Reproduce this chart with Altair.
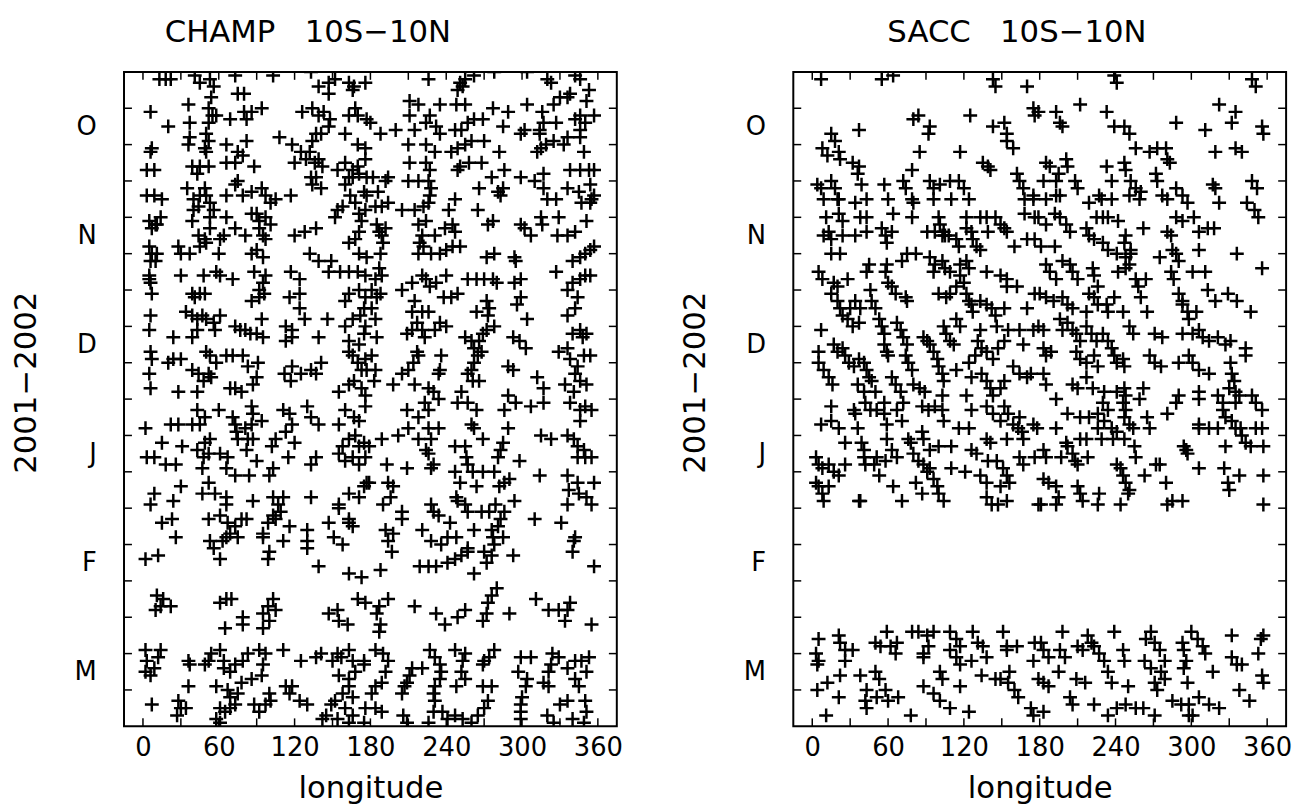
import altair as alt
import pandas as pd

# ---------------- data (longitude in degrees, day counted from 1 Oct 2001) -------------
CHAMP_NW = [[13,2],[18,2],[22,2],[41,1],[45,3],[53,2],[56,4],[73,1],[75,6],[80,6],[103,1],[133,0],[139,4],[147,3],[152,2],[147,6],[163,3],[167,4],[176,3],[166,5],[54,7],
[6,11],[36,9],[52,10],[55,12],[52,14],[58,12],[69,13],[80,11],[82,13],[86,11],[94,10],[126,11],[134,10],[139,12],[143,11],[148,13],[147,15],[163,12],[168,10],[170,12],[177,13],[20,15],[37,14],
[50,17],[52,19],[49,21],[50,22],[36,20],[37,18],[66,20],[82,19],[6,22],[7,21],[108,18],[118,20],[134,19],[137,17],[141,17],[160,17],[170,20],[176,21],[125,22],[132,22],[75,22],
[3,27],[9,27],[39,26],[45,26],[52,26],[43,28],[66,25],[73,25],[79,23],[88,26],[120,25],[129,24],[136,25],[139,24],[142,26],[133,29],[154,27],[160,25],[166,27],[170,26],[176,24],[163,29],[177,29],
[3,34],[9,34],[15,35],[35,32],[40,35],[45,34],[49,32],[50,34],[53,36],[66,34],[73,31],[75,30],[79,34],[86,33],[94,32],[97,34],[105,35],[101,36],[117,34],[134,31],[137,29],[141,32],[160,31],[166,29],[171,28],[175,33],[177,34],[40,38],[44,37],
[5,41],[10,42],[14,40],[7,43],[11,42],[39,41],[53,40],[56,38],[66,40],[44,45],[49,46],[53,43],[61,46],[64,45],[73,43],[86,39],[90,39],[92,41],[97,40],[101,42],[92,43],[95,45],[97,46],[81,45],[120,45],[128,44],[137,43],[152,40],[154,38],[158,37],[164,34],[168,36],[171,39],[173,41],[176,38],[163,47],[168,46],[171,44],
[5,48],[7,50],[10,52],[6,52],[11,50],[28,48],[37,50],[45,48],[50,47],[60,50],[30,50],[86,50],[90,49],[95,51],[132,50],[139,52],[149,52],[171,50],[177,51],
[5,56],[6,58],[7,61],[5,57],[30,56],[48,56],[58,55],[71,57],[61,56],[88,55],[97,56],[95,58],[117,55],[124,57],[147,55],[156,55],[163,55],[170,55],[176,56],[39,61],[41,62],[45,61],[49,61],[86,63],[92,62],[96,61],[92,60],[116,62],[124,61],[160,63],[163,61],[171,60],[176,62],[175,65],
[6,67],[5,71],[34,66],[39,67],[43,68],[47,67],[50,68],[56,69],[61,67],[57,71],[73,70],[77,71],[81,71],[85,72],[90,72],[94,68],[95,73],[113,70],[118,71],[124,65],[128,68],[146,68],[160,70],[166,68],[172,67],[176,70],[24,73],[39,73],[43,71],[113,74],[118,73],[139,73],[163,74],[171,75],[175,72],
[6,77],[7,79],[5,83],[6,87],[20,80],[24,79],[30,79],[39,82],[44,83],[48,85],[52,83],[54,84],[58,80],[53,78],[50,77],[66,78],[71,78],[79,78],[83,81],[91,80],[90,84],[87,86],[69,87],[73,87],[78,88],[112,83],[118,81],[117,85],[125,83],[133,82],[141,80],[137,83],[163,77],[166,78],[170,80],[173,82],[176,79],[177,82],[155,88],[163,86],[167,85],[173,87],[176,89],[28,88],[43,88]]

CHAMP_NE = [[226,2],[251,3],[255,2],[262,1],[278,0],[304,0],[320,2],[323,3],[342,1],[346,2],[249,5],[253,4],[353,5],[351,8],
[211,8],[218,9],[235,9],[248,9],[255,9],[277,10],[289,11],[304,9],[316,11],[325,9],[330,7],[336,7],[338,6],[357,12],[346,12],[350,14],
[180,14],[188,17],[200,16],[211,12],[215,16],[224,14],[227,12],[232,15],[235,17],[247,16],[252,16],[257,14],[262,13],[269,13],[285,15],[299,17],[302,16],[314,16],[314,17],[317,14],[327,14],[333,20],[342,13],[346,16],
[210,20],[224,20],[231,22],[244,22],[249,21],[255,20],[260,19],[270,19],[282,22],[312,22],[315,21],[319,20],[325,19],[336,18],[346,18],[349,22],
[211,25],[224,25],[227,27],[251,26],[249,27],[258,25],[268,25],[276,29],[286,27],[299,29],[310,30],[317,28],[338,27],[346,27],[353,27],[357,27],
[182,29],[186,33],[192,30],[194,29],[210,30],[218,30],[226,30],[228,32],[227,34],[247,35],[266,32],[281,33],[285,32],[283,34],[317,32],[320,35],[327,35],[336,32],[345,33],[347,36],[354,31],[355,35],[357,34],
[184,37],[189,37],[194,36],[205,38],[215,38],[222,37],[226,36],[224,41],[242,38],[265,38],[273,42],[277,41],[299,42],[302,43],[307,45],[315,40],[316,42],[329,40],[328,45],[336,45],[342,44],[351,41],[354,36],
[185,42],[187,44],[189,45],[190,47],[188,50],[192,43],[218,42],[221,45],[231,45],[239,43],[245,42],[247,44],[219,47],[218,50],[222,48],[228,50],[235,50],[240,49],[245,48],[251,48],
[272,51],[278,50],[294,51],[295,52],[327,55],[340,52],[346,51],[350,50],[354,49],[357,48],
[187,54],[184,57],[189,56],[181,60],[185,62],[188,61],[205,60],[213,58],[221,56],[224,57],[227,59],[232,58],[240,56],[238,62],[244,62],[249,61],[257,57],[264,57],[270,57],[277,57],[280,58],[294,58],[299,57],
[215,63],[213,66],[221,66],[226,66],[272,63],[274,65],[273,67],[264,66],[296,64],[299,62],[304,68],[336,60],[340,58],[346,57],[350,56],[354,56],[344,62],[342,65],[336,67],[181,65],[184,68],
[209,72],[213,71],[217,69],[221,71],[223,73],[231,71],[235,69],[240,70],[255,73],[260,74],[262,76],[266,74],[269,72],[272,71],[278,70],[293,73],[298,74],[303,76],[336,76],[340,72],[346,71],[351,72],[348,73],
[185,73],[181,78],[184,82],[183,85],[205,83],[210,82],[214,80],[218,78],[217,77],[236,78],[235,82],[234,83],[198,86],[215,86],[226,87],[230,88],[257,83],[260,82],[262,80],[265,78],[268,77],[261,85],[266,85],[252,88],[289,81],[293,82],[312,84],[329,77],[338,79],[344,81],[349,78],[354,78],[342,83],[346,85],[351,86],[334,86],[317,87],[289,89],[341,88]]

CHAMP_SW = [[43,93],[49,95],[45,97],[39,97],[60,93],[71,95],[73,97],[86,92],[87,94],[86,97],[94,96],[2,98],[22,97],[28,97],[111,93],[116,94],[118,97],[130,92],[133,95],[139,97],[160,93],[167,95],[171,96],[176,92],[155,97],
[74,99],[81,98],[75,101],[83,101],[87,101],[105,101],[113,99],[120,102],
[15,102],[3,106],[9,106],[18,108],[26,108],[31,103],[43,104],[49,102],[53,101],[48,106],[47,109],[52,105],[61,105],[67,106],[66,109],[73,111],[84,111],[82,104],[90,107],[102,103],[103,109],[100,111],[115,106],[133,108],[137,106],
[158,103],[163,101],[168,100],[171,103],[175,102],[160,107],[166,106],[171,108],[176,106],[155,105],
[9,116],[30,114],[6,119],[24,118],[47,116],[52,113],[57,116],[66,117],[66,119],[87,118],[103,117],[111,117],[107,119],[133,117],[155,119],[163,116],[171,117],[175,114],[177,113],
[15,124],[23,123],[26,128],[52,123],[61,122],[67,124],[73,125],[69,127],[75,128],[78,123],[82,123],[53,129],[56,131],[63,129],[61,134],[66,128],
[95,127],[99,124],[103,122],[105,123],[109,121],[116,125],[95,128],[111,129],[100,132],[99,134],[130,126],[130,129],[130,131],[147,124],[155,120],[163,123],[166,125],[151,128],[158,130],[163,124],
[2,134],[12,133],[139,136],[163,138],[173,139],
[11,144],[16,145],[22,147],[10,148],[14,147],[61,146],[66,145],[70,145],[103,145],[99,147],[105,148],[95,149],[100,151],[79,150],[79,152],[65,153],[95,153],[147,149],[154,148],[155,151],[162,152],[170,145],[176,146],
[2,159],[3,162],[2,165],[6,166],[9,164],[12,161],[14,159],[36,162],[37,163],[49,163],[52,162],[54,160],[61,159],[64,162],[64,164],[69,165],[73,163],[79,162],[83,160],[92,159],[97,160],[111,159],[95,163],[94,166],[86,167],[78,168],
[125,162],[137,161],[141,160],[150,162],[154,160],[157,161],[163,159],[166,162],[175,162],[155,166],[163,167],[168,165],[175,163],
[36,169],[58,169],[67,170],[69,172],[75,171],[100,171],[113,169],[118,169],[116,171],
[7,174],[28,173],[30,175],[27,177],[34,175],[61,175],[65,176],[69,175],[73,174],[58,178],[61,179],[88,174],[92,176],[97,174],[101,173],
[124,173],[130,174],[145,177],[149,174],[152,173],[158,171],[163,169],[166,172],[160,175],[142,178],[154,178],[163,179],[175,179],[176,175],[166,177]]

CHAMP_SE = [[209,93],[218,95],[223,91],[226,93],[234,90],[249,91],[257,91],[264,93],[286,93],[295,91],[307,92],[317,91],[338,91],[346,93],[350,92],[355,93],[346,96],
[202,100],[210,98],[218,101],[226,98],[228,101],[234,98],[224,104],[230,108],[226,105],[179,103],[189,101],
[247,103],[255,103],[256,106],[257,108],[269,101],[260,97],[262,98],[289,98],[285,102],[283,104],[281,106],[298,107],
[315,100],[323,101],[336,100],[341,101],[344,103],[349,104],[350,106],[355,106],[344,106],
[193,108],[209,109],[228,109],[247,110],[261,110],[269,110],[278,110],[314,111],
[179,113],[194,113],[198,114],[196,117],[190,119],[251,113],[264,114],[282,114],[286,113],[290,112],
[228,119],[230,121],[234,122],[248,117],[249,118],[255,119],[257,121],[268,121],[274,121],[279,119],[286,121],[294,118],
[336,111],[344,113],[337,115],[345,116],[351,117],[357,113],[355,119],[336,119],[205,121],[205,123],
[192,126],[198,127],[194,129],[197,132],[188,137],[221,126],[228,129],[236,130],[241,128],[243,124],[248,128],[257,131],[262,126],
[276,126],[277,128],[278,130],[276,133],[272,135],[285,128],[281,125],[283,123],[293,133],[310,123],[331,124],[341,129],[340,132],[342,128],
[219,136],[226,136],[232,136],[241,135],[247,134],[252,133],[257,132],[262,138],[270,132],[357,136],
[187,147],[194,145],[185,149],[188,152],[187,154],[215,147],[232,149],[239,152],[249,150],[255,148],[269,151],[272,149],[273,146],[276,144],[280,142],[290,149],[311,145],[321,148],[329,148],[336,148],[338,146],[334,151],[355,152],
[184,159],[190,160],[194,162],[192,165],[189,168],[184,169],[181,171],[184,175],[189,176],[205,171],[207,169],[209,168],[211,166],[213,164],[221,164],[206,177],[209,179],
[227,159],[231,161],[235,163],[236,165],[235,167],[231,169],[230,171],[231,173],[230,176],[226,179],[237,176],[241,178],[247,177],[253,178],
[247,159],[255,160],[253,162],[252,165],[255,167],[248,169],[269,163],[270,162],[274,161],[278,159],[269,169],[276,169],[273,173],[270,175],[265,177],[260,179],
[299,161],[307,161],[297,165],[304,167],[303,169],[300,172],[299,174],[299,176],[299,178],
[317,168],[321,165],[323,163],[324,160],[329,161],[321,169],[336,164],[342,162],[347,162],[353,161],[351,165],[342,167],[345,169],
[320,177],[325,179],[330,174],[336,173],[350,173],[351,176],[349,179],[340,178]]

SACC_NW = [[7,2],[55,2],[64,1],[143,2],[145,4],[170,4],[175,10],[176,12],
[80,13],[84,12],[93,15],[92,17],[125,12],[143,15],[152,14],[154,17],[154,19],[159,21],
[37,16],[15,17],[18,19],[8,21],[12,23],[21,22],[22,24],[85,22],[117,22],
[32,25],[37,26],[36,28],[79,27],[135,25],[139,26],[141,27],[162,28],[164,30],[167,32],[175,34],
[4,31],[7,32],[15,30],[18,32],[21,35],[39,31],[57,31],[72,30],[74,32],[79,35],[80,36],[93,30],[96,32],[101,31],[109,30],[116,30],[120,32],
[9,35],[20,35],[34,36],[43,35],[60,35],[96,35],[110,35],[124,35],[168,35],[175,35],
[11,40],[21,39],[24,41],[38,40],[43,40],[64,39],[79,40],[100,40],[101,42],[104,44],[105,45],[122,40],[133,40],[138,40],[145,40],[149,42],[152,43],[168,39],[176,40],
[9,45],[13,44],[15,46],[24,45],[34,45],[43,44],[55,43],[58,45],[59,47],[63,44],[91,44],[97,44],[103,45],[108,45],[114,46],[116,48],[122,43],[126,44],[127,46],[130,48],[133,49],[139,44],[154,44],[160,48],[170,46],[176,46],
[15,50],[22,50],[45,53],[43,55],[59,53],[58,55],[71,52],[75,50],[82,50],[93,51],[97,53],[96,55],[103,52],[105,54],[109,55],[117,53],[117,56],[122,52],[124,54],[138,55],[149,56],[154,57],[154,59],[162,59],
[5,55],[8,57],[17,58],[20,59],[28,57],[15,61],[20,63],[46,60],[47,63],[50,65],[60,58],[63,59],[66,61],[74,62],[75,63],[100,61],[106,62],[109,61],[114,59],[120,58],[122,61],[124,63],[126,64],[127,66],[133,63],[138,64],[142,65],[145,67],[146,70],[152,65],[170,65],[176,61],
[22,65],[24,67],[30,65],[34,63],[38,65],[28,68],[32,70],[37,69],[7,71],[53,68],[55,70],[57,72],[67,69],[70,71],[72,73],[75,75],[91,74],[93,75],[96,77],[99,79],[104,70],[106,72],[109,74],[112,75],[114,68],[117,70],[133,71],[131,74],[134,76],[138,77],[143,79],[147,76],[152,74],[155,71],[164,71],[167,75],[175,71],
[5,77],[17,75],[20,77],[24,76],[26,78],[29,80],[33,81],[37,79],[41,80],[43,82],[5,80],[9,82],[13,84],[16,86],[36,86],[41,88],[45,84],[47,85],[50,88],[57,75],[59,77],[60,78],[63,84],[66,86],[70,88],[74,78],[76,80],[79,82],[80,86],[85,87],[89,88],[88,73],[100,81],[103,83],[104,85],[114,82],[124,80],[129,78],[126,84],[134,83],[138,85],[141,87],[143,89],[149,87],[152,85],[159,81],[164,83],[170,84],[173,83],[103,89],[122,89]]

SACC_NE = [[239,1],[241,3],[348,2],[351,4],[212,9],[179,11],[193,11],[196,14],[198,15],[233,11],[239,15],[247,15],[251,17],[288,14],[311,16],[322,9],[335,11],[332,14],[356,15],[357,17],
[256,21],[267,22],[273,21],[280,21],[281,24],[283,25],[319,22],[335,21],[340,22],
[185,25],[188,26],[201,24],[202,26],[233,26],[247,25],[248,27],[195,28],[193,30],[183,30],[208,30],[210,32],[237,30],[252,30],[256,32],[260,33],[272,28],[273,30],[288,32],[317,31],[319,32],[348,30],[352,32],
[185,35],[193,34],[196,34],[219,36],[227,34],[229,35],[237,35],[251,34],[259,35],[277,34],[281,35],[293,34],[297,36],[322,36],[344,36],[350,38],[353,40],
[179,40],[185,42],[192,39],[196,40],[201,42],[204,44],[225,40],[230,40],[234,40],[242,41],[217,43],[219,45],[223,46],[262,43],[288,40],[293,41],[302,40],[306,44],[313,43],[318,43],[281,44],[284,45],
[248,45],[247,47],[252,49],[252,50],[248,51],[230,47],[234,49],[241,50],[181,48],[192,48],[275,51],[285,49],[288,50],[290,52],[306,49],[336,50],
[185,53],[188,55],[193,57],[198,52],[204,53],[206,55],[210,57],[222,54],[223,56],[226,59],[242,55],[248,54],[251,53],[256,57],[258,59],[260,62],[264,57],[284,55],[286,57],[290,61],[293,63],[301,55],[311,55],[313,60],[319,63],[329,61],[336,63],[347,66],[356,54],
[180,61],[185,62],[191,63],[198,62],[202,64],[206,65],[217,66],[219,61],[223,62],[226,64],[233,64],[234,66],[239,62],[246,66],[265,66],[293,64],[297,66],[298,68],[304,66],
[179,70],[183,71],[196,68],[198,71],[202,69],[206,71],[209,72],[212,74],[217,70],[221,72],[225,74],[230,72],[234,74],[237,76],[239,78],[251,70],[254,72],[271,72],[277,73],[293,72],[301,72],[306,71],[309,73],[314,74],[321,73],[327,75],[331,74],[343,76],[343,78],
[183,76],[185,78],[189,77],[209,77],[212,79],[217,80],[223,78],[226,81],[241,80],[246,79],[247,81],[267,78],[271,80],[276,81],[290,80],[298,78],[301,80],[306,82],[314,83],[331,80],[332,83],[334,85],[330,87],[335,88],[338,89],
[183,83],[185,86],[206,86],[210,87],[217,84],[222,87],[231,88],[241,88],[247,87],[248,89],[262,87],[290,89],[306,88],[321,89],[348,89]]

SACC_SW = [[15,92],[33,93],[34,94],[42,91],[46,93],[51,93],[57,91],[57,94],[59,97],[67,93],[71,96],[72,91],[7,97],[15,96],[21,98],[36,98],
[87,92],[92,93],[97,92],[103,93],[104,96],[116,98],[124,98],[126,93],[138,92],[143,94],[149,96],[152,92],[155,94],[159,97],[163,98],[164,95],[175,97],
[26,102],[39,102],[41,104],[59,101],[63,104],[67,106],[76,101],[78,102],[87,99],[88,101],[93,104],[100,103],[110,103],[126,104],[130,105],[138,101],[141,102],[154,101],[166,99],[167,101],
[3,106],[5,108],[8,109],[13,108],[17,110],[21,111],[26,108],[41,106],[42,108],[49,108],[51,106],[53,111],[58,107],[80,105],[84,107],[88,108],[91,110],[96,112],[99,114],[100,116],[104,118],[93,109],[110,109],[121,110],[133,111],[138,113],[139,107],[146,107],[151,109],[154,111],[156,113],[164,106],[167,108],[176,106],
[3,113],[5,114],[8,116],[9,118],[13,114],[37,118],[38,118],[64,114],[71,118],[82,113],[87,116],[138,117],[142,119],[147,119],[154,118],[149,114],[179,119],
[5,156],[3,160],[5,162],[4,163],[21,155],[22,157],[26,159],[32,159],[26,162],[50,157],[54,158],[59,154],[62,158],[66,160],[67,157],[79,154],[84,154],[91,155],[96,154],[92,158],[88,160],[88,161],
[109,154],[114,156],[117,158],[109,159],[114,161],[117,163],[126,162],[127,154],[131,157],[135,158],[138,161],[151,154],[154,158],[162,158],[154,159],[176,157],[175,162],
[4,170],[12,168],[22,166],[21,172],[38,166],[50,165],[53,167],[43,170],[42,173],[43,175],[51,172],[58,170],[60,173],[68,172],[11,177],[78,177],[88,169],[96,171],[101,165],[103,167],[101,173],[109,175],[117,169],[124,176],[134,166],[145,167],[149,167],[156,165],[155,168],[160,170],[163,172],[173,175],[175,177],[179,167]]

SACC_SE = [[193,90],[230,91],[234,93],[246,91],[248,93],[259,90],[288,91],[306,90],[325,91],[335,91],[351,91],[356,93],
[202,94],[212,95],[219,95],[226,94],[231,96],[237,98],[241,99],[247,95],[251,97],[254,98],[265,95],[267,98],[281,94],
[193,98],[178,98],[212,101],[217,101],[229,101],[238,101],[247,101],[226,98],
[306,97],[306,98],[314,98],[321,98],[327,95],[325,93],[332,96],[335,98],[339,98],[340,100],[351,98],[356,98],[343,102],[347,103],[357,103],[327,103],
[294,103],[296,104],[297,105],[201,102],[202,103],[206,105],[208,107],[210,108],[218,106],[197,106],[185,106],[183,104],[255,103],[256,106],
[241,108],[244,109],[246,111],[248,113],[251,115],[263,111],[272,108],[275,108],[280,113],[306,109],[326,109],[338,111],[329,113],[330,115],[357,111],
[183,112],[187,113],[193,114],[195,117],[193,119],[181,119],[210,114],[212,116],[214,118],[227,116],[226,119],[244,119],[250,116],[281,119],[285,118],[293,118],[357,119],
[181,157],[183,159],[187,161],[183,168],[187,169],[183,176],[198,154],[196,159],[200,161],[195,165],[204,172],[206,174],
[210,158],[214,159],[218,155],[221,157],[223,158],[227,160],[231,162],[234,165],[237,168],[209,167],[216,168],[239,154],[246,159],[247,162],[250,169],
[223,174],[234,177],[241,175],[248,174],[256,175],[262,175],[271,177],
[264,156],[268,154],[271,157],[275,159],[279,162],[263,162],[268,164],[276,165],[279,167],[271,168],[273,170],
[285,173],[292,174],[298,174],[301,177],[306,172],[314,174],[322,175],[293,157],[294,159],[296,162],[294,164],[300,154],[305,156],[309,158],[311,160],[297,168],
[317,165],[332,155],[332,161],[336,163],[340,163],[338,170],[346,173],[353,160],[355,156],[357,155],[356,166],[357,168],[298,177]]

MONTHS = ["O", "N", "D", "J", "F", "M"]
MONTH_POS = [15, 45, 75, 105, 135, 165]
X_LABELS = [0, 60, 120, 180, 240, 300, 360]
X_TICKS = [0, 30, 60, 90, 120, 150, 180, 210, 240, 270, 300, 330, 360]
Y_TICKS = [10, 20, 30, 40, 50, 60, 70, 80, 90, 100, 110, 120, 130, 140, 150, 160, 170]

# ---------------- chart ----------------
W, H = 497, 660
FONT = "DejaVu Sans"
TICK = 8
PLUS = "M-1,0L1,0M0,-1L0,1"

xscale = alt.Scale(domain=[-15, 375], nice=False, zero=False)
yscale = alt.Scale(domain=[0, 180], reverse=True, nice=False, zero=False)

month_expr = "[" + ",".join("'%s'" % m for m in MONTHS) + "][floor(datum.value / 30)]"

xaxis = alt.Axis(values=X_LABELS, ticks=False, domain=False, grid=False,
                 labelFont=FONT, labelFontSize=26, labelColor="black", labelPadding=8,
                 title="longitude", titleFont=FONT, titleFontSize=31,
                 titleFontWeight="normal", titleColor="black", titlePadding=14)
yaxis = alt.Axis(values=MONTH_POS, ticks=False, domain=False, grid=False,
                 labelExpr=month_expr, labelFont=FONT, labelFontSize=26,
                 labelColor="black", labelPadding=28,
                 title="2001\u22122002", titleFont=FONT, titleFontSize=31,
                 titleFontWeight="normal", titleColor="black", titlePadding=32,
                 titleY=313)


def panel(pairs, title, dx):
    pts = pd.DataFrame(pairs, columns=["lon", "day"])
    xt = pd.DataFrame({"lon": X_TICKS})
    yt = pd.DataFrame({"day": Y_TICKS})
    X = alt.X("lon:Q", scale=xscale, axis=xaxis)
    Y = alt.Y("day:Q", scale=yscale, axis=yaxis)

    points = alt.Chart(pts).mark_point(
        shape=PLUS, size=196, filled=False, color="black",
        strokeWidth=2.5, opacity=1, clip=True
    ).encode(x=X, y=Y)

    rule = dict(color="black", strokeWidth=1.5)
    bottom = alt.Chart(xt).mark_rule(**rule).encode(
        x=X, y=alt.value(H), y2=alt.value(H - TICK))
    top = alt.Chart(xt).mark_rule(**rule).encode(
        x=X, y=alt.value(0), y2=alt.value(TICK))
    left = alt.Chart(yt).mark_rule(**rule).encode(
        y=Y, x=alt.value(0), x2=alt.value(TICK))
    right = alt.Chart(yt).mark_rule(**rule).encode(
        y=Y, x=alt.value(W - TICK), x2=alt.value(W))

    return alt.layer(points, bottom, top, left, right).properties(
        width=W, height=H,
        title=alt.TitleParams(title, font=FONT, fontSize=31, fontWeight="normal",
                              color="black", anchor="middle", dx=dx, offset=22),
    )


NB = "\u00a0\u00a0\u00a0"
champ = panel(CHAMP_NW + CHAMP_NE + CHAMP_SW + CHAMP_SE, "CHAMP" + NB + "10S\u221210N", -63)
sacc = panel(SACC_NW + SACC_NE + SACC_SW + SACC_SE, "SACC" + NB + "10S\u221210N", -23)

chart = alt.hconcat(champ, sacc, spacing=178, bounds="flush").properties(
    padding={"left": 1, "top": 5, "right": 5, "bottom": 5}
).configure(
    background="white",
    view=alt.ViewConfig(stroke="black", strokeWidth=2),
)

chart.save("out.html", embed_options={"renderer": "svg", "actions": False})
